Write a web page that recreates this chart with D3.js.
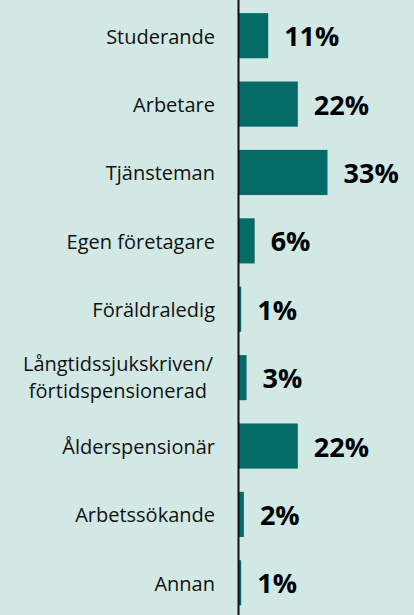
<!DOCTYPE html>
<html>
<head>
<meta charset="utf-8">
<script src="https://cdn.jsdelivr.net/npm/d3@7"></script>
<style>
  html, body { margin: 0; padding: 0; background: #d2e8e5; }
  svg { display: block; }
</style>
</head>
<body>
<svg id="chart" width="414" height="615"></svg>
<script>
// Occupation categories (line breaks marked with "\n")
const categories = [
  "Studerande",
  "Arbetare",
  "Tjänsteman",
  "Egen företagare",
  "Föräldraledig",
  "Långtidssjukskriven/\nförtidspensionerad",
  "Ålderspensionär",
  "Arbetssökande",
  "Annan"
];
// Share of respondents, percent
const values = [11, 22, 33, 6, 1, 3, 22, 2, 1];
const valueLabels = ["11%", "22%", "33%", "6%", "1%", "3%", "22%", "2%", "1%"];

const W = 414, H = 615;
const axisX = 238.5;
const labelRight = 215;

const svg = d3.select("#chart");
svg.append("rect").attr("width", W).attr("height", H).attr("fill", "#d2e8e5");

const y = d3.scaleBand()
  .domain(categories)
  .range([1.5, 617])
  .paddingInner(0.34)
  .paddingOuter(0.17);

const x = d3.scaleLinear().domain([0, 33]).range([axisX, axisX + 89]);

const data = categories.map((c, i) => ({ c, v: values[i], label: valueLabels[i] }));

// bars
svg.selectAll("rect.bar").data(data).enter().append("rect")
  .attr("class", "bar")
  .attr("x", x(0))
  .attr("y", d => y(d.c))
  .attr("width", d => x(d.v) - x(0))
  .attr("height", y.bandwidth())
  .attr("fill", "#046b66");

// value labels
svg.selectAll("text.val").data(data).enter().append("text")
  .attr("class", "val")
  .attr("x", d => x(d.v) + 16)
  .attr("y", d => y(d.c) + y.bandwidth() / 2 + 10.5)
  .attr("font-family", "'Open Sans', sans-serif")
  .attr("font-weight", "bold")
  .attr("font-size", 27)
  .attr("fill", "#000")
  .text(d => d.label);

// category labels, multi-line labels centered within their block
const fontSize = 20;
const lineGap = 26.5;
data.forEach(d => {
  const lines = d.c.split("\n");
  const cy = y(d.c) + y.bandwidth() / 2;
  const g = svg.append("g");
  const offset = lines.length === 1 ? 8 : 6.8;
  const texts = lines.map((ln, j) => g.append("text")
    .attr("y", cy + (j - (lines.length - 1) / 2) * lineGap + offset)
    .attr("font-family", "'Open Sans', sans-serif")
    .attr("font-size", fontSize)
    .attr("fill", "#111")
    .text(ln));
  if (lines.length === 1) {
    texts[0].attr("x", labelRight).attr("text-anchor", "end");
  } else {
    const maxW = d3.max(texts, t => t.node().getComputedTextLength());
    texts.forEach(t => t.attr("x", labelRight - 2 - maxW / 2).attr("text-anchor", "middle"));
  }
});

// vertical axis line
svg.append("line")
  .attr("x1", axisX).attr("x2", axisX)
  .attr("y1", 0).attr("y2", H)
  .attr("stroke", "#111")
  .attr("stroke-width", 2);
</script>
</body>
</html>
